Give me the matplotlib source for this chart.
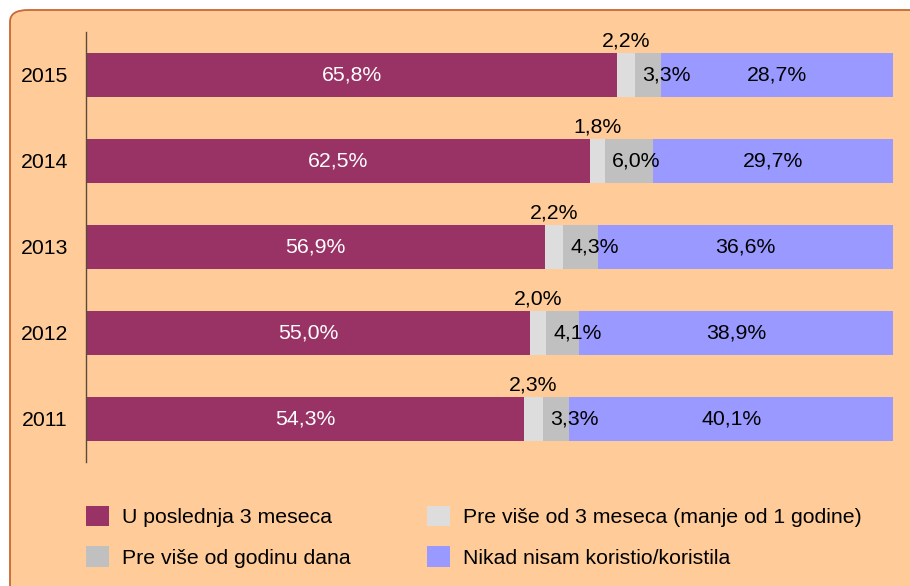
import matplotlib
matplotlib.use("Agg")
import matplotlib.pyplot as plt
from matplotlib.patches import FancyBboxPatch
import numpy as np

plt.rcParams['font.family'] = ['Liberation Sans', 'DejaVu Sans']

years = ['2011', '2012', '2013', '2014', '2015']
recent3m = [54.3, 55.0, 56.9, 62.5, 65.8]
m3_to_1y = [2.3, 2.0, 2.2, 1.8, 2.2]
over1y = [3.3, 4.1, 4.3, 6.0, 3.3]
never = [40.1, 38.9, 36.6, 29.7, 28.7]

series_names = ['U poslednja 3 meseca', 'Pre više od 3 meseca (manje od 1 godine)',
                'Pre više od godinu dana', 'Nikad nisam koristio/koristila']
colors = ['#993366', '#DDDDDD', '#C0C0C0', '#9999FF']

FS = 15.3

def fmt(v):
    return f"{v:.1f}%".replace('.', ',')

fig = plt.figure(figsize=(9.10, 5.86), dpi=100, facecolor='white')
bg = FancyBboxPatch((10/910, 1 - 600/586), 930/910, 590/586,
                    boxstyle="round,pad=0,rounding_size=0.02",
                    transform=fig.transFigure, facecolor='#FFCC99',
                    edgecolor='#CC6633', linewidth=1.3, zorder=-10)
fig.patches.append(bg)

ax = fig.add_axes([86/910, 1 - 462/586, (893-86)/910, (462-32)/586])
ax.set_facecolor('none')

y = np.arange(len(years))
data = [recent3m, m3_to_1y, over1y, never]
left = np.zeros(len(years))
handles = []
h = 0.51
for i, (vals, c) in enumerate(zip(data, colors)):
    vals = np.array(vals)
    b = ax.barh(y, vals, left=left, height=h, color=c, edgecolor='none')
    handles.append(b)
    for yi, l, v in zip(y, left, vals):
        if i == 0:
            ax.text(l + v/2, yi, fmt(v), ha='center', va='center', color='white', fontsize=FS)
        elif i == 1:
            ax.text(l + v/2, yi + h/2 + 0.03, fmt(v), ha='center', va='bottom', color='black', fontsize=FS)
        elif i == 2:
            ax.text(l + 0.9, yi, fmt(v), ha='left', va='center', color='black', fontsize=FS)
        else:
            ax.text(l + v/2, yi, fmt(v), ha='center', va='center', color='black', fontsize=FS)
    left += vals

ax.set_xlim(0, 100)
ax.set_ylim(-0.5, 4.5)
ax.set_yticks(y)
ax.set_yticklabels(years, fontsize=FS)
ax.set_xticks([])
ax.tick_params(axis='y', length=0, pad=13)
for s in ['top', 'right', 'bottom']:
    ax.spines[s].set_visible(False)
ax.spines['left'].set_color('#5a4a3a')
ax.spines['left'].set_linewidth(1.0)

order = [0, 2, 1, 3]
leg = fig.legend([handles[k] for k in order], [series_names[k] for k in order],
                 ncol=2, loc='upper left', bbox_to_anchor=(86/910, 1 - 506/586),
                 frameon=False, fontsize=FS, handlelength=1.08, handleheight=1.08,
                 handletextpad=0.61, columnspacing=3.6, labelspacing=0.9,
                 borderaxespad=0, borderpad=0)

fig.savefig('out.png', dpi=100, facecolor='white')
